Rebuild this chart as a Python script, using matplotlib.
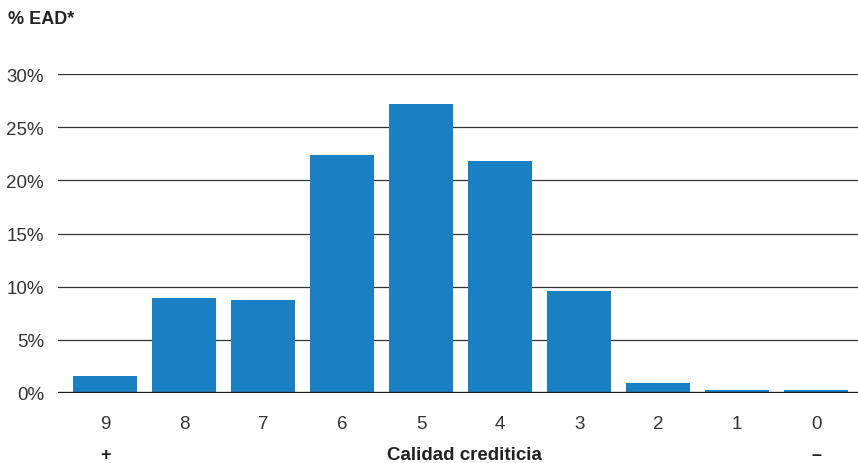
import matplotlib.pyplot as plt

plt.rcParams['font.family'] = ['Liberation Sans', 'DejaVu Sans']

grades = ['9', '8', '7', '6', '5', '4', '3', '2', '1', '0']
ead_pct = [1.6, 8.9, 8.7, 22.4, 27.2, 21.8, 9.6, 0.9, 0.3, 0.3]
yticks = [0, 5, 10, 15, 20, 25, 30]

fig = plt.figure(figsize=(8.58, 4.64), dpi=100)
ax = fig.add_axes([58 / 858, 1 - 394 / 464, 800 / 858, 319 / 464])

pos = list(range(len(grades)))
ax.bar(pos, ead_pct, width=0.81, color='#1a80c4', zorder=3)

for y in yticks[1:]:
    ax.axhline(y, color='#333333', linewidth=0.9, zorder=1)
ax.axhline(0, color='#1a1a1a', linewidth=2.4, zorder=4)
ax.axhline(-0.25, color='#aaaaaa', linewidth=1.2, zorder=4)

ax.set_xlim(-0.595, 9.53)
ax.set_ylim(0, 30)
ax.set_yticks(yticks)
ax.set_yticklabels([f'{v}%' for v in yticks], fontsize=13.5, color='#333333')
ax.set_xticks(pos)
ax.set_xticklabels(grades, fontsize=13.5, color='#333333')
ax.tick_params(axis='both', length=0)
ax.tick_params(axis='y', pad=10)
ax.tick_params(axis='x', pad=16)
for s in ax.spines.values():
    s.set_visible(False)

fig.text(8 / 858, 1 - 20 / 464, '% EAD*', fontsize=13, fontweight='bold',
         color='#222222', va='center', ha='left')
fig.text(464 / 858, 1 - 456 / 464, 'Calidad crediticia', fontsize=13.5,
         fontweight='bold', color='#222222', va='center', ha='center')
ax.annotate('+', xy=(0, 0), xycoords=('data', 'figure fraction'),
            xytext=(0, 8), textcoords='offset pixels', fontsize=13,
            fontweight='bold', ha='center', va='center', color='#222222')
ax.annotate('–', xy=(9, 0), xycoords=('data', 'figure fraction'),
            xytext=(0, 8), textcoords='offset pixels', fontsize=13,
            fontweight='bold', ha='center', va='center', color='#222222')

fig.savefig('out.png', dpi=100)
